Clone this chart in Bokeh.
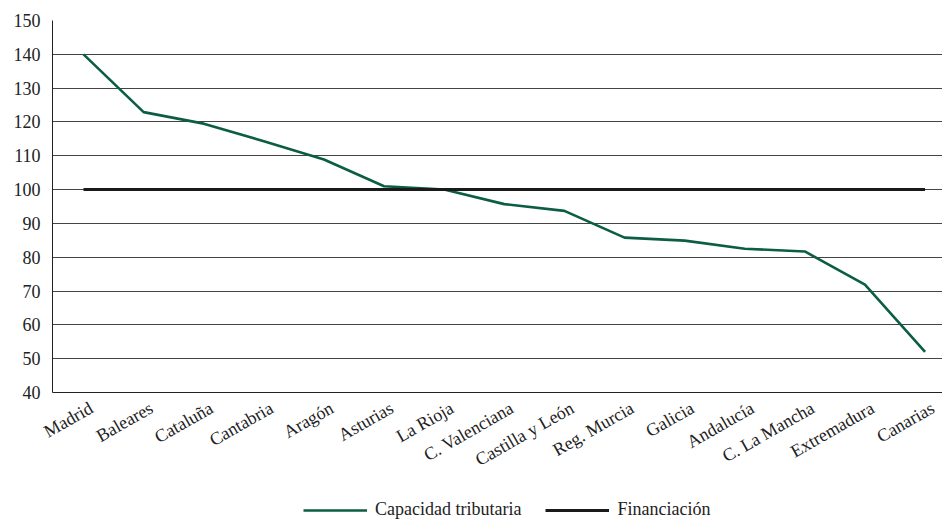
from bokeh.plotting import figure
from bokeh.models import Range1d, FixedTicker, Legend, LegendItem
from bokeh.layouts import column
from bokeh.embed import file_html
from bokeh.resources import INLINE

regions = ["Madrid", "Baleares", "Cataluña", "Cantabria", "Aragón", "Asturias",
           "La Rioja", "C. Valenciana", "Castilla y León", "Reg. Murcia", "Galicia",
           "Andalucía", "C. La Mancha", "Extremadura", "Canarias"]
capacidad = [140, 122.9, 119.5, 114.3, 108.9, 101, 100, 95.7, 93.7, 85.8, 84.9,
             82.5, 81.7, 71.9, 52]
financiacion = [100] * len(regions)
y_ticks = [40, 50, 60, 70, 80, 90, 100, 110, 120, 130, 140, 150]

FONT = "Liberation Serif"
GREEN = "#0c5d45"
BLACK = "#1a1a1a"
TEXT = "#222222"

xs = list(range(len(regions)))
# category labels sit slightly right of their points
label_pos = [x + 0.13 for x in xs]

p = figure(width=942, height=490, output_backend="svg", toolbar_location=None,
           x_range=Range1d(-0.516, 14.29), y_range=Range1d(40, 150),
           min_border_left=52, min_border_right=0, min_border_top=20,
           min_border_bottom=98)
p.outline_line_color = None
p.background_fill_color = "white"
p.border_fill_color = "white"

p.line(xs, capacidad, line_color=GREEN, line_width=2.6)
p.line(xs, financiacion, line_color=BLACK, line_width=3)

# axes
p.xaxis.ticker = FixedTicker(ticks=label_pos)
p.xaxis.major_label_overrides = {lp: name for lp, name in zip(label_pos, regions)}
p.xaxis.major_label_orientation = 0.52
p.xaxis.major_tick_line_color = None
p.xaxis.minor_tick_line_color = None
p.xaxis.axis_line_color = TEXT
p.xaxis.major_label_text_font = FONT
p.xaxis.major_label_text_font_size = "18px"
p.xaxis.major_label_text_color = TEXT
p.xaxis.major_label_standoff = 8

p.yaxis.ticker = FixedTicker(ticks=y_ticks)
p.yaxis.major_tick_line_color = None
p.yaxis.minor_tick_line_color = None
p.yaxis.axis_line_color = TEXT
p.yaxis.major_label_text_font = FONT
p.yaxis.major_label_text_font_size = "18px"
p.yaxis.major_label_text_color = TEXT
p.yaxis.major_label_standoff = 6

p.xgrid.grid_line_color = None
p.ygrid.ticker = FixedTicker(ticks=y_ticks)
p.ygrid.grid_line_color = "#444444"
p.ygrid.grid_line_width = 1

# legend strip under the chart; its sample lines lie outside the strip's ranges
leg = figure(width=942, height=29, output_backend="svg", toolbar_location=None,
             x_axis_type=None, y_axis_type=None,
             x_range=Range1d(0, 1), y_range=Range1d(0, 1),
             min_border_left=0, min_border_right=0, min_border_top=0,
             min_border_bottom=0)
leg.grid.visible = False
leg.outline_line_color = None
r_cap = leg.line([-2, -1], [-2, -1], line_color=GREEN, line_width=2.6)
r_fin = leg.line([-2, -1], [-2, -1], line_color=BLACK, line_width=3)

legend = Legend(items=[LegendItem(label="Capacidad tributaria", renderers=[r_cap]),
                       LegendItem(label="Financiación", renderers=[r_fin])],
                orientation="horizontal", location=(251, -1),
                glyph_width=64, glyph_height=14, label_standoff=8, spacing=24,
                label_height=16, padding=0, margin=0, border_line_color=None,
                background_fill_alpha=0,
                label_text_font=FONT, label_text_font_size="18px",
                label_text_color=TEXT)
leg.add_layout(legend, "center")

open("out.html", "w").write(file_html(column(p, leg, spacing=0), INLINE))
